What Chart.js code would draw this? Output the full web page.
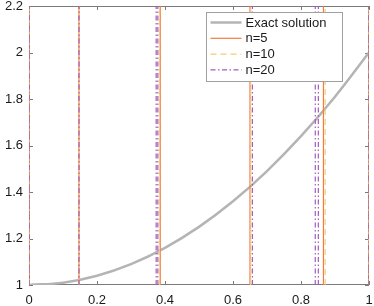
<!DOCTYPE html>
<html>
<head>
<meta charset="utf-8">
<script src="https://cdn.jsdelivr.net/npm/chart.js@4/dist/chart.umd.min.js"></script>
<style>
    body { margin: 0; background: #fff; }
    canvas { display: block; }
</style>
</head>
<body>
<canvas id="chart" width="374" height="306"></canvas>
<script>
// Exact solution
const exactX = [0, 0.1, 0.2, 0.3, 0.4, 0.5, 0.6, 0.7, 0.8, 0.9, 1];
const exactY = [1, 1.01, 1.04, 1.09, 1.16, 1.25, 1.36, 1.49, 1.64, 1.81, 2.0];

// x positions of the vertical mesh lines for each n
const meshN5 = [0, 0.147, 0.386, 0.650, 0.866, 1];
const meshN10 = [0, 0.147, 0.384, 0.652, 0.871, 1];
const meshN20 = [0, 0.147, 0.374, 0.379, 0.657, 0.842, 0.851, 1];

const xTicks = [0, 0.2, 0.4, 0.6, 0.8, 1];
const yTicks = [1, 1.2, 1.4, 1.6, 1.8, 2, 2.2];
const yMin = 1, yMax = 2.2;

const seriesLabels = ['Exact solution', 'n=5', 'n=10', 'n=20'];

const FONT = '"Liberation Sans", Arial, sans-serif';

// vertical lines spanning the whole y range, separated by gaps
function verticals(xs) {
    const pts = [];
    xs.forEach(function (x) {
        pts.push({ x: x, y: yMin }, { x: x, y: yMax }, { x: x, y: null });
    });
    return pts;
}

const datasets = [
    {
        label: seriesLabels[0],
        data: exactX.map(function (x, i) { return { x: x, y: exactY[i] }; }),
        borderColor: '#b4b4b4', borderWidth: 2.5, tension: 0.4, order: 4
    },
    {
        label: seriesLabels[1], data: verticals(meshN5),
        borderColor: '#f07c40', borderWidth: 1.2, order: 3
    },
    {
        label: seriesLabels[2], data: verticals(meshN10),
        borderColor: '#f4cc70', borderWidth: 1.2, borderDash: [6, 4], order: 2
    },
    {
        label: seriesLabels[3], data: verticals(meshN20),
        borderColor: '#a35bbf', borderWidth: 1.2, borderDash: [5, 2.5, 1.5, 2.5], order: 1
    }
];
datasets.forEach(function (d) {
    d.showLine = true;
    d.pointRadius = 0;
    d.spanGaps = false;
    d.fill = false;
});

// box around the axes with inward tick marks (under the data lines)
const framePlugin = {
    id: 'frame',
    beforeDatasetsDraw(chart) {
        const ctx = chart.ctx, a = chart.chartArea;
        const xs = chart.scales.x, ys = chart.scales.y;
        ctx.save();
        ctx.strokeStyle = '#7a7a7a';
        ctx.lineWidth = 1;
        ctx.strokeRect(a.left + 0.5, a.top + 0.5, a.right - a.left - 1, a.bottom - a.top - 1);
        ctx.beginPath();
        xTicks.forEach(function (v) {
            const px = Math.round(xs.getPixelForValue(v)) + 0.5;
            ctx.moveTo(px, a.bottom); ctx.lineTo(px, a.bottom - 4);
            ctx.moveTo(px, a.top); ctx.lineTo(px, a.top + 4);
        });
        yTicks.forEach(function (v) {
            const py = Math.round(ys.getPixelForValue(v)) + 0.5;
            ctx.moveTo(a.left, py); ctx.lineTo(a.left + 4, py);
            ctx.moveTo(a.right, py); ctx.lineTo(a.right - 4, py);
        });
        ctx.stroke();
        ctx.restore();
    }
};

// MATLAB-style legend box inside the top right corner
const legendPlugin = {
    id: 'boxLegend',
    afterDatasetsDraw(chart) {
        const ctx = chart.ctx;
        const x0 = 206.5, y0 = 12.5, w = 136, h = 69, row = 15.8;
        ctx.save();
        ctx.fillStyle = '#fff';
        ctx.fillRect(x0, y0, w, h);
        ctx.strokeStyle = '#a0a0a0';
        ctx.lineWidth = 1;
        ctx.strokeRect(x0, y0, w, h);
        ctx.font = '13px ' + FONT;
        ctx.textBaseline = 'middle';
        chart.data.datasets.forEach(function (d, i) {
            const y = y0 + 10 + i * row;
            ctx.beginPath();
            ctx.strokeStyle = d.borderColor;
            ctx.lineWidth = d.borderWidth;
            ctx.setLineDash(d.borderDash || []);
            ctx.moveTo(x0 + 4, y);
            ctx.lineTo(x0 + 35, y);
            ctx.stroke();
            ctx.setLineDash([]);
            ctx.fillStyle = '#1a1a1a';
            ctx.fillText(d.label, x0 + 39, y + 0.5);
        });
        ctx.restore();
    }
};

new Chart(document.getElementById('chart'), {
    type: 'scatter',
    data: { datasets: datasets },
    options: {
        responsive: false,
        animation: false,
        layout: { padding: { top: 6, right: 5, left: 0, bottom: 0 } },
        plugins: { legend: { display: false }, tooltip: { enabled: false } },
        scales: {
            x: {
                type: 'linear', min: 0, max: 1,
                grid: { display: false, drawTicks: false },
                border: { display: false },
                afterBuildTicks: function (s) { s.ticks = xTicks.map(function (v) { return { value: v }; }); },
                afterFit: function (s) {
                    s.height = 21;
                    s.paddingLeft = 0;
                    s.paddingRight = 0;
                },
                ticks: {
                    padding: 8, color: '#1a1a1a', maxRotation: 0,
                    font: { family: FONT, size: 13 },
                    callback: function (v) { return String(v); }
                }
            },
            y: {
                type: 'linear', min: yMin, max: yMax,
                grid: { display: false, drawTicks: false },
                border: { display: false },
                afterBuildTicks: function (s) { s.ticks = yTicks.map(function (v) { return { value: v }; }); },
                afterFit: function (s) {
                    s.width = 29;
                    s.paddingTop = 0;
                    s.paddingBottom = 0;
                },
                ticks: {
                    padding: 6, color: '#1a1a1a',
                    font: { family: FONT, size: 13 },
                    callback: function (v) { return String(v); }
                }
            }
        }
    },
    plugins: [framePlugin, legendPlugin]
});
</script>
</body>
</html>
